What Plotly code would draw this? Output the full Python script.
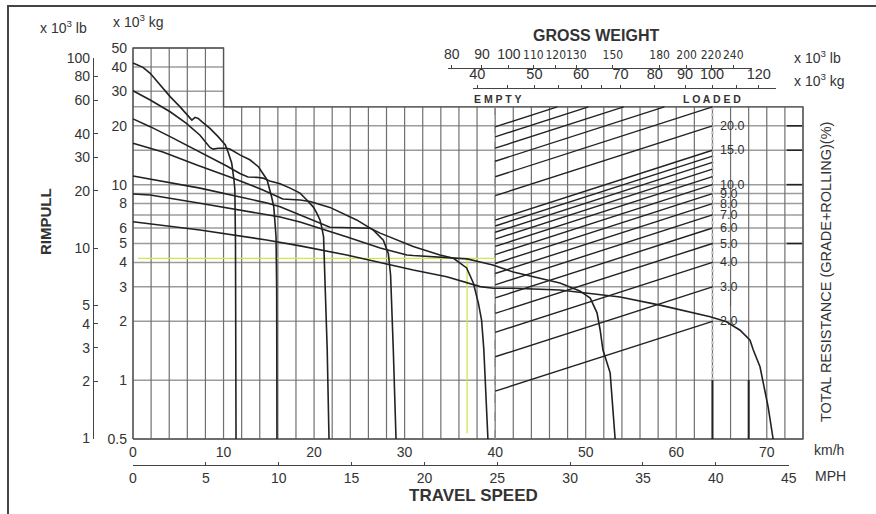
import math
import plotly.graph_objects as go

# ---------------- data ----------------
speed_kmh_ticks = [0, 10, 20, 30, 40, 50, 60, 70]
speed_mph_ticks = [0, 5, 10, 15, 20, 25, 30, 35, 40, 45]
rimpull_kg_ticks = [0.5, 1, 2, 3, 4, 5, 6, 8, 10, 20, 30, 40, 50]
rimpull_lb_ticks = [1, 2, 3, 4, 5, 10, 20, 30, 40, 60, 80, 100]
gw_lb_ticks = [80, 90, 100, 110, 120, 130, 150, 180, 200, 220, 240]
gw_kg_ticks = [40, 50, 60, 70, 80, 90, 100, 120]
gw_kg_minor_ticks = [45, 55, 65, 110]

resistance_pct = [2, 3, 4, 5, 6, 7, 8, 9, 10, 11, 12, 13, 14, 15, 20, 25, 30, 35, 40, 45]
resistance_label_pct = [2, 3, 4, 5, 6, 7, 8, 9, 10, 15, 20]

gw_empty_kg = 43.9      # x10^3 kg at the EMPTY line
gw_loaded_kg = 100.0    # x10^3 kg at the LOADED line
empty_kmh = 40
loaded_kmh = 64
grid_top_left = 50      # x10^3 kg, grid top for 0-10 km/h
grid_top_right = 25     # x10^3 kg, grid top beyond 10 km/h
grid_step_kmh = 10
speed_max_kmh = 74
grid_kg_full = [0.5, 1, 2, 3, 4, 5, 6, 7, 8, 9, 10, 15, 20, 25]
grid_kg_left = [30, 40, 50]

# rimpull curves (km/h, x10^3 kg)
gear1_kmh = [0, 1.1, 1.9, 3.0, 4.1, 5.2, 6.1, 6.5, 6.85, 7.2, 7.6, 8.5, 9.4, 10.2, 10.5, 10.9, 11.15, 11.25, 11.32, 11.38]
gear1_kg = [41.9, 39.8, 37.1, 32.3, 28.2, 25.0, 22.3, 21.4, 22.1, 21.8, 21.0, 19.4, 17.6, 15.95, 14.7, 12.9, 10.6, 9.4, 5.0, 0.5]

gear2_kmh = [0, 1.9, 4.1, 5.9, 7.4, 8.5, 8.85, 9.4, 10.35, 10.7, 11.8, 12.9, 13.85, 14.4, 14.8, 15.3, 15.55, 15.8, 15.87, 15.9]
gear2_kg = [30.2, 27.1, 23.6, 20.6, 17.9, 15.5, 15.2, 15.35, 15.35, 15.2, 14.2, 13.4, 12.35, 11.4, 10.6, 8.7, 7.7, 5.4, 2.9, 0.5]

gear3_kmh = [0, 1.9, 4.1, 6.3, 8.5, 10.35, 11.8, 12.7, 13.65, 14.35, 15.1, 16.25, 17.35, 18.45, 19.2, 19.9, 20.3, 20.65, 20.85, 21.05, 21.2, 21.45, 21.65]
gear3_kg = [21.7, 19.8, 17.6, 15.6, 13.9, 12.45, 11.4, 10.95, 10.9, 10.8, 10.45, 10.1, 9.6, 9.05, 8.35, 7.7, 7.15, 6.6, 6.05, 5.4, 3.25, 1.43, 0.5]

gear4_kmh = [0, 3.3, 7.05, 10.7, 14.35, 16.55, 18.45, 19.55, 21.75, 24.7, 26.55, 27.65, 28.2, 28.45, 28.75, 29.05]
gear4_kg = [16.3, 14.7, 12.6, 10.95, 9.4, 8.45, 8.35, 8.2, 7.65, 6.6, 5.85, 5.2, 4.45, 3.45, 1.43, 0.5]

gear5_kmh = [0, 7.4, 14.8, 16.25, 21.75, 26.2, 27.3, 30.95, 33.9, 35.4, 36.85, 37.6, 38.15, 38.5, 38.75, 39.0, 39.2]
gear5_kg = [11.07, 9.6, 8.06, 7.7, 6.05, 5.98, 5.65, 4.82, 4.37, 4.2, 3.75, 3.13, 2.47, 2.03, 1.43, 0.79, 0.5]

gear6_kmh = [0, 1.9, 7.4, 14.75, 16.25, 18.45, 19.9, 23.65, 27.3, 30.25, 30.95, 35.35, 36.9, 38.35, 39.75, 42.0, 47.15, 49.35, 50.5, 51.25, 51.6, 51.9, 52.7, 53.25]
gear6_kg = [8.96, 8.85, 8.03, 6.99, 6.83, 6.44, 6.14, 5.40, 4.74, 4.37, 4.34, 4.24, 4.17, 4.02, 3.88, 3.57, 3.14, 2.86, 2.63, 2.21, 1.80, 1.43, 1.09, 0.5]

gear7_kmh = [0, 7.4, 14.75, 18.45, 23.6, 30.95, 34.65, 38.35, 39.8, 42.0, 47.15, 49.35, 53.8, 58.2, 63.75, 65.55, 67.05, 68.15, 68.5, 69.25, 70.15, 70.7]
gear7_kg = [6.46, 5.86, 5.21, 4.86, 4.37, 3.66, 3.38, 3.01, 2.95, 2.95, 2.89, 2.82, 2.66, 2.42, 2.11, 1.99, 1.80, 1.60, 1.43, 1.17, 0.73, 0.5]

gears = [(gear1_kmh, gear1_kg), (gear2_kmh, gear2_kg), (gear3_kmh, gear3_kg), (gear4_kmh, gear4_kg),
         (gear5_kmh, gear5_kg), (gear6_kmh, gear6_kg), (gear7_kmh, gear7_kg)]

# operating point marked in yellow
op_start_kmh = 0.55
op_speed_kmh = 36.9
op_rimpull_kg = 4.2
op_bottom_kg = 0.535

# thick marks
stop_marks_kmh = [64, 68]
right_marks_kg = [5, 10, 15, 20]

KMH_PER_MPH = 1.609344

# ---------------- layout geometry (pixels) ----------------
W, H = 876, 514
PL, PR, PT, PB = 93, 810, 40, 465
def px_x(p):
    return (p - PL) / (PR - PL)
def px_y(p):
    return (PB - p) / (PB - PT)

X0_PX, PX_PER_KMH = 133.0, 9.054
Y05_PX, PX_PER_DEC = 439.0, 195.5
def kmh_px(k):
    return X0_PX + PX_PER_KMH * k
def px_kmh(p):
    return (p - X0_PX) / PX_PER_KMH

dpk = math.log10(gw_loaded_kg / gw_empty_kg) / (loaded_kmh - empty_kmh)
def log_gw_at(k):
    return math.log10(gw_empty_kg) + (k - empty_kmh) * dpk

xdom_px = (128, 808)
ydom_px = (442, 45)
x_range = [px_kmh(xdom_px[0]), px_kmh(xdom_px[1])]
y_range = [math.log10(0.5) - (ydom_px[0] - Y05_PX) / PX_PER_DEC,
           math.log10(0.5) + (Y05_PX - ydom_px[1]) / PX_PER_DEC]

# printed gross-weight scales (as drawn on the sheet)
GW_SCALE_PX_PER_DEC = 590.0
lb_anchor = (220, 711.0)
kg_anchor = (100, 712.0)
lb_dom = (448, 752)
kg_dom = (473, 776)
def scale_range(anchor, dom):
    v, p = anchor
    return [math.log10(v) + (dom[0] - p) / GW_SCALE_PX_PER_DEC,
            math.log10(v) + (dom[1] - p) / GW_SCALE_PX_PER_DEC]

INK = '#222222'
TXT = '#333333'
FONT = 'Liberation Sans, Arial, sans-serif'

fig = go.Figure()

def lines_trace(xs, ys, color, width, dash=None, xaxis='x', yaxis='y'):
    fig.add_trace(go.Scatter(x=xs, y=ys, xaxis=xaxis, yaxis=yaxis, mode='lines',
                             line=dict(color=color, width=width, dash=dash),
                             hoverinfo='skip', showlegend=False, connectgaps=False))

# ---------------- grid ----------------
hx, hy = [], []
for v in grid_kg_full:
    hx += [0, speed_max_kmh, None]; hy += [v, v, None]
for v in grid_kg_left:
    hx += [0, grid_step_kmh, None]; hy += [v, v, None]
lines_trace(hx, hy, '#9c9c9c', 1.5)
vx, vy = [], []
k = 0
while k <= speed_max_kmh:
    top = grid_top_left if k <= grid_step_kmh else grid_top_right
    vx += [k, k, None]; vy += [0.5, top, None]
    k += 2
lines_trace(vx, vy, '#707070', 1.2)
fx = [0, 0, grid_step_kmh, grid_step_kmh, speed_max_kmh, speed_max_kmh, 0]
fy = [0.5, grid_top_left, grid_top_left, grid_top_right, grid_top_right, 0.5, 0.5]
lines_trace(fx, fy, '#555555', 1.3)

lines_trace([empty_kmh, empty_kmh], [0.5, grid_top_right], '#8c8c8c', 1.5, 'dash')
lines_trace([loaded_kmh, loaded_kmh], [1, grid_top_right], '#c4c4c4', 2.5, 'dot')

tx, ty = [], []
for k in stop_marks_kmh:
    tx += [k, k, None]; ty += [0.5, 1, None]
lines_trace(tx, ty, INK, 2)
rx, ry = [], []
for v in right_marks_kg:
    rx += [72.2, 73.9, None]; ry += [v, v, None]
lines_trace(rx, ry, INK, 1.6)

# resistance lines on the gross-weight axis
lx, ly = [], []
for r in resistance_pct:
    gw_end = min(gw_loaded_kg, grid_top_right * 100.0 / r)
    lx += [gw_empty_kg, gw_end, None]
    ly += [gw_empty_kg * r / 100.0, gw_end * r / 100.0, None]
lines_trace(lx, ly, INK, 1.4, xaxis='x3')

# yellow operating lines
lines_trace([op_start_kmh, empty_kmh, None, op_speed_kmh, op_speed_kmh],
            [op_rimpull_kg, op_rimpull_kg, None, op_rimpull_kg, op_bottom_kg], '#d2e64e', 1.3)

# rimpull curves
for i, (kx, ky) in enumerate(gears):
    lines_trace(kx, ky, INK, 1.6)

# leader between 3.0 and 2.0
lines_trace([66.0, 66.0], [2.4, 2.9], '#555', 1)

# invisible traces that carry the secondary axes
def ghost(xs, ys, xaxis, yaxis):
    fig.add_trace(go.Scatter(x=xs, y=ys, xaxis=xaxis, yaxis=yaxis, mode='markers',
                             marker=dict(opacity=0, size=1), hoverinfo='skip', showlegend=False))
ghost([0, 45], [1, 1], 'x2', 'y')
ghost([90, 200], [1, 1], 'x4', 'y')
ghost([50, 100], [1, 1], 'x5', 'y')
ghost([1, 1], [2, 50], 'x', 'y2')

# ---------------- axes ----------------
axis_font = dict(family=FONT, size=14, color=TXT)
narrow = 'font-family:Liberation Sans Narrow, DejaVu Sans Condensed;font-size:12px'
lb_text = [str(v) if v <= 100 else f'<span style="{narrow}">{v}</span>' for v in gw_lb_ticks]
kg_vals = sorted(gw_kg_ticks + gw_kg_minor_ticks)
kg_text = [str(v) if v in gw_kg_ticks else ' ' for v in kg_vals]

fig.update_layout(
    width=W, height=H,
    margin=dict(l=PL, r=W - PR, t=PT, b=H - PB, pad=0),
    paper_bgcolor='white', plot_bgcolor='rgba(0,0,0,0)',
    font=dict(family=FONT, color=TXT),
    xaxis=dict(domain=[px_x(xdom_px[0]), px_x(xdom_px[1])], range=x_range, showgrid=False,
               zeroline=False, showline=False, ticks='', tickvals=speed_kmh_ticks,
               tickfont=axis_font, fixedrange=True),
    yaxis=dict(domain=[px_y(ydom_px[0]), px_y(ydom_px[1])], type='log', range=y_range,
               showgrid=False, zeroline=False, showline=False, ticks='',
               tickvals=rimpull_kg_ticks, ticktext=[str(v) for v in rimpull_kg_ticks],
               tickfont=axis_font, fixedrange=True),
    xaxis2=dict(domain=[px_x(kmh_px(0)), px_x(kmh_px(45 * KMH_PER_MPH))], range=[0, 45],
                anchor='free', position=0, showgrid=False, zeroline=False, showline=True,
                linecolor='#444', linewidth=1.4, ticks='inside', ticklen=3, tickcolor='#444',
                tickvals=speed_mph_ticks, tickfont=axis_font, fixedrange=True),
    xaxis3=dict(overlaying='x', type='log', range=[log_gw_at(x_range[0]), log_gw_at(x_range[1])],
                visible=False, fixedrange=True),
    xaxis4=dict(domain=[px_x(lb_dom[0]), px_x(lb_dom[1])], type='log',
                range=scale_range(lb_anchor, lb_dom),
                anchor='free', position=px_y(68), side='top', showgrid=False, zeroline=False,
                showline=True, linecolor='#444', linewidth=1.3, ticks='outside', ticklen=3,
                tickcolor='#444', tickvals=gw_lb_ticks, ticktext=lb_text, tickangle=0,
                tickfont=dict(family=FONT, size=14, color=TXT), fixedrange=True),
    xaxis5=dict(domain=[px_x(kg_dom[0]), px_x(kg_dom[1])], type='log',
                range=scale_range(kg_anchor, kg_dom),
                anchor='free', position=px_y(88), side='top', showgrid=False, zeroline=False,
                showline=True, linecolor='#444', linewidth=1.3, ticks='outside', ticklen=3,
                tickcolor='#444', tickvals=kg_vals, ticktext=kg_text, tickangle=0,
                tickfont=dict(family=FONT, size=14.5, color=TXT), fixedrange=True),
    yaxis2=dict(domain=[px_y(438.5), px_y(58)], type='log', range=[0, 2], anchor='free', position=0,
                side='left', showgrid=False, zeroline=False, showline=True, linecolor='#444',
                linewidth=1.4, ticks='inside', ticklen=4, tickcolor='#444',
                tickvals=rimpull_lb_ticks, tickfont=axis_font, fixedrange=True),
)

# ---------------- texts ----------------
ann = []
def label(text, xp, yp, size=14, bold=False, angle=0, xanchor='center'):
    t = f'<b>{text}</b>' if bold else text
    ann.append(dict(text=t, x=px_x(xp), y=px_y(yp), xref='paper', yref='paper', showarrow=False,
                    xanchor=xanchor, yanchor='middle', textangle=angle,
                    font=dict(family=FONT, size=size, color=TXT)))

label('x 10<sup>3</sup> lb', 63, 27, size=14)
label('x 10<sup>3</sup> kg', 138, 21, size=14)
label('RIMPULL', 45, 222, size=15, bold=True, angle=-90)
label('GROSS WEIGHT', 596, 36, size=16, bold=True)
label('x 10<sup>3</sup> lb', 817, 57, size=14)
label('x 10<sup>3</sup> kg', 819, 80, size=14)
label('E M P T Y', 497, 99, size=10.5, bold=True)
label('L O A D E D', 712, 99, size=10.5, bold=True)
label('km/h', 829, 450, size=14)
label('MPH', 830, 476, size=14)
label('TRAVEL SPEED', 473, 495, size=17, bold=True)
label('TOTAL RESISTANCE (GRADE+ROLLING)(%)', 826, 272, size=14.5, angle=-90)

for r in resistance_label_pct:
    ann.append(dict(text=f'{r:.1f}', x=64.6, y=math.log10(r), xref='x', yref='y', showarrow=False,
                    xanchor='left', yanchor='middle', font=dict(family=FONT, size=12.5, color=TXT)))
fig.update_layout(annotations=ann)

fig.update_layout(shapes=[
    dict(type='line', xref='paper', yref='paper', x0=px_x(8), x1=px_x(8), y0=px_y(6), y1=px_y(520),
         line=dict(color='#444', width=2)),
    dict(type='line', xref='paper', yref='paper', x0=px_x(7), x1=px_x(880), y0=px_y(6), y1=px_y(6),
         line=dict(color='#444', width=2)),
])

fig.write_html('out.html', config={'displayModeBar': False},
               post_script="document.body.style.margin='0';document.body.style.overflow='hidden';")
